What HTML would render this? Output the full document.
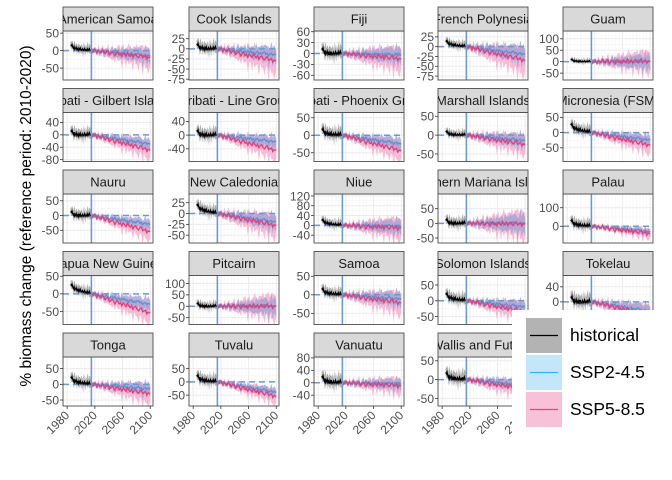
<!DOCTYPE html>
<html><head><meta charset="utf-8">
<style>
html,body{margin:0;padding:0;background:#fff;}
svg{display:block;font-family:"Liberation Sans",sans-serif;}
</style></head>
<body>
<svg id="chart" width="672" height="480" viewBox="0 0 672 480"></svg>
<script>
// ---- data ----
const regions = ["American Samoa","Cook Islands","Fiji","French Polynesia","Guam",
 "Kiribati - Gilbert Islands","Kiribati - Line Group","Kiribati - Phoenix Group","Marshall Islands","Micronesia (FSM)",
 "Nauru","New Caledonia","Niue","Northern Mariana Islands","Palau",
 "Papua New Guinea","Pitcairn","Samoa","Solomon Islands","Tokelau",
 "Tonga","Tuvalu","Vanuatu","Wallis and Futuna"];
const yMin = [-84,-77,-73,-85,-80, -86,-77,-75,-70,-95, -93,-68,-72,-67,-90, -87,-80,-80,-75,-60, -69,-91,-75,-70];
const yMax = [56,44,62,40,134, 72,66,65,60,66, 73,45,128,100,174, 52,135,52,80,70, 87,94,83,60];
const yTicks = [[50,0,-50],[25,0,-25,-50,-75],[60,30,0,-30,-60],[25,0,-25,-50,-75],[100,50,0,-50],
 [40,0,-40,-80],[40,0,-40],[50,0,-50],[50,0,-50],[50,0,-50],
 [50,0,-50],[25,0,-25,-50],[120,80,40,0,-40],[50,0,-50],[100,0],
 [50,0,-50],[100,50,0,-50],[50,0,-50],[50,0,-50],[40,0,-40],
 [50,0,-50],[50,0,-50],[80,40,0,-40],[50,0,-50]];
const ssp2End = [-15,-15,-5,-20,0, -30,-20,-25,-15,-25, -30,-20,-5,0,-30, -30,0,-12,-20,-25, -15,-40,-5,-15];
const ssp5End = [-20,-30,-15,-35,2, -50,-45,-45,-25,-42, -55,-28,-12,-3,-40, -55,0,-22,-35,-35, -30,-55,-10,-25];
const ssp5Spread = [35,35,40,40,60, 30,30,30,30,30, 30,30,55,60,30, 30,70,35,35,30, 35,30,30,25];
const histSpread = [18,20,25,15,15, 25,25,25,15,25, 25,18,25,25,40, 20,25,20,25,25, 25,30,30,25];
const histStart = [10,5,5,10,5, 5,5,10,5,20, 5,15,15,5,20, 20,5,10,15,5, 15,15,10,10];
const xTicks = [1980,2020,2060,2100];
const histYears = [1985,1986,1987,1988,1989,1990,1991,1992,1993,1994,1995,1996,1997,1998,1999,2000,2001,2002,2003,2004,2005,2006,2007,2008,2009,2010,2011,2012,2013,2014,2015];
const histWiggle = [0.8,0.5,1.0,0.2,-0.3,0.4,-0.6,-0.2,0.3,-0.5,-0.1,-0.7,0.1,-0.4,0.2,-0.6,-0.3,0.1,-0.5,-0.2,0.3,-0.4,0.0,-0.2,0.4,-0.3,0.2,0.6,-0.1,0.1,0.0];
const histNoise = [0.5,0.9,0.4,1.2,0.6,0.8,1.5,0.5,0.7,1.0,0.4,1.3,0.6,0.9,0.5,0.8,1.1,0.6,0.4,1.4,0.7,0.5,1.0,0.6,0.9,1.6,0.5,0.8,1.2,0.6,0.5];
const projYears = [2015,2017,2019,2021,2023,2025,2027,2029,2031,2033,2035,2037,2039,2041,2043,2045,2047,2049,2051,2053,2055,2057,2059,2061,2063,2065,2067,2069,2071,2073,2075,2077,2079,2081,2083,2085,2087,2089,2091,2093,2095,2097,2100];
const projWiggle2 = [0,0.3,-0.2,0.4,-0.1,0.2,-0.4,0.1,0.3,-0.3,0.0,0.4,-0.2,-0.5,0.1,0.3,-0.1,0.5,-0.3,0.0,0.2,-0.4,0.3,-0.1,0.4,-0.2,0.1,-0.5,0.2,0.4,-0.3,0.1,-0.2,0.3,0.5,-0.1,0.2,-0.4,0.1,0.3,-0.2,0.2,0.0];
const projWiggle5 = [0,-0.3,0.4,0.1,-0.4,0.3,0.0,-0.2,0.5,0.1,-0.3,0.2,0.4,-0.4,-0.1,0.3,0.0,-0.5,0.2,0.4,-0.2,0.1,-0.4,0.3,0.0,-0.3,0.5,0.1,-0.2,0.3,-0.4,0.2,0.4,-0.1,-0.3,0.2,0.5,-0.2,0.0,0.3,-0.4,0.1,0.0];
const ribbonNoise = [0.6,1.3,0.7,1.0,0.5,1.5,0.8,0.6,1.2,0.7,1.0,0.5,1.4,0.8,0.6,1.1,0.7,1.3,0.6,0.9,1.5,0.7,0.8,1.2,0.6,1.0,0.7,1.4,0.8,0.6,1.1,0.9,0.7,1.3,0.6,1.0,0.8,1.2,0.7,0.9,1.1,0.8,0.7];

// ---- layout ----
const NS="http://www.w3.org/2000/svg";
const svg=document.getElementById('chart');
const colX=[63,189,314,438,563], PW=90, STRIP=24, PH=49;
const rowTop=[7,88.5,170,251.5,333];
const X0=1974, X1=2104;
function mk(tag,attrs,parent){const e=document.createElementNS(NS,tag);for(const k in attrs)e.setAttribute(k,attrs[k]);(parent||svg).appendChild(e);return e;}
const defs=mk('defs',{});

regions.forEach((name,i)=>{
  const c=i%5, r=Math.floor(i/5);
  const left=colX[c], st=rowTop[r], top=st+STRIP, bot=top+PH, right=left+PW;
  const xs=y=>left+(y-X0)/(X1-X0)*PW;
  const ys=v=>bot-(v-yMin[i])/(yMax[i]-yMin[i])*PH;
  const g=mk('g',{});
  
  
  const cp=mk('clipPath',{id:'cp'+i},defs); mk('rect',{x:left,y:top,width:PW,height:PH},cp);
  const cs=mk('clipPath',{id:'cs'+i},defs); mk('rect',{x:left,y:st,width:PW,height:STRIP},cs);
  mk('rect',{x:left,y:top,width:PW,height:PH,fill:'#fff'},g);
  const grid=mk('g',{'clip-path':`url(#cp${i})`},g);
  [2000,2040,2080].forEach(y=>mk('line',{x1:xs(y),x2:xs(y),y1:top,y2:bot,stroke:'#f3f3f3','stroke-width':0.6},grid));
  for(let y=1975;y<=2100;y+=5)mk('line',{x1:xs(y),x2:xs(y),y1:top,y2:bot,stroke:'#f6f6f6','stroke-width':0.5},grid);
  const tk=yTicks[i];
  for(let k=0;k<tk.length-1;k++){const m=(tk[k]+tk[k+1])/2;mk('line',{x1:left,x2:right,y1:ys(m),y2:ys(m),stroke:'#f3f3f3','stroke-width':0.6},grid);}
  xTicks.forEach(y=>mk('line',{x1:xs(y),x2:xs(y),y1:top,y2:bot,stroke:'#ebebeb','stroke-width':1},grid));
  tk.forEach(v=>mk('line',{x1:left,x2:right,y1:ys(v),y2:ys(v),stroke:'#ebebeb','stroke-width':1},grid));
  // historical
  const hm=histYears.map((y,k)=>histStart[i]*(1-k/30)+histWiggle[k]*histSpread[i]*0.45);
  let up=histYears.map((y,k)=>xs(y)+','+ys(hm[k]+histSpread[i]*histNoise[k]*0.9));
  let lo=histYears.map((y,k)=>xs(y)+','+ys(hm[k]-histSpread[i]*histNoise[(k+7)%31]*0.7)).reverse();
  const hr=mk('polygon',{points:up.concat(lo).join(' '),fill:'#a6a6a6','fill-opacity':0.9},grid);
  
  
  // projections
  const n=projYears.length;
  const rng=(yMax[i]-yMin[i])/140;
  const frac=k=>(projYears[k]-2015)/85;
  const m5=projYears.map((y,k)=>ssp5End[i]*frac(k)+projWiggle5[k]*14*rng);
  const m2=projYears.map((y,k)=>ssp2End[i]*frac(k)+projWiggle2[k]*10*rng);
  const w=k=>8+ssp5Spread[i]*frac(k);
  const p5u=projYears.map((y,k)=>xs(y)+','+ys(m5[k]+w(k)*ribbonNoise[k]*0.8));
  const p5l=projYears.map((y,k)=>xs(y)+','+ys(m5[k]-w(k)*ribbonNoise[n-1-k]*0.9)).reverse();
  const p2u=projYears.map((y,k)=>xs(y)+','+ys(m2[k]+w(k)*0.55*ribbonNoise[(k+5)%n]));
  const p2l=projYears.map((y,k)=>xs(y)+','+ys(m2[k]-w(k)*0.6*ribbonNoise[(k+11)%n])).reverse();
  const r5=mk('polygon',{points:p5u.concat(p5l).join(' '),fill:'#f7b3cf','fill-opacity':0.9},grid);
  
  
  const r2=mk('polygon',{points:p2u.concat(p2l).join(' '),fill:'#b9e3f7','fill-opacity':0.7},grid);
  
  
  mk('polygon',{points:p2u.concat(p2l).join(' '),fill:'#9a6fb8','fill-opacity':0.45},grid);
  mk('line',{x1:left,x2:right,y1:ys(0),y2:ys(0),stroke:'#6a9bd0','stroke-width':1.5,'stroke-dasharray':'6,4'},grid);
  const l2=mk('polyline',{points:projYears.map((y,k)=>xs(y)+','+ys(m2[k])).join(' '),fill:'none',stroke:'#5f8fd0','stroke-width':1.3},grid);
  
  
  const l5=mk('polyline',{points:projYears.map((y,k)=>xs(y)+','+ys(m5[k])).join(' '),fill:'none',stroke:'#e0407c','stroke-width':1.3},grid);
  
  
  const hl=mk('polyline',{points:histYears.map((y,k)=>xs(y)+','+ys(hm[k])).join(' '),fill:'none',stroke:'#000','stroke-width':1.2},grid);
  
  
  mk('line',{x1:xs(2015),x2:xs(2015),y1:top,y2:bot,stroke:'#6a9bd0','stroke-width':1.6},grid);
  mk('rect',{x:left,y:top,width:PW,height:PH,fill:'none',stroke:'#4d4d4d','stroke-width':0.9},g);
  mk('rect',{x:left,y:st,width:PW,height:STRIP,fill:'#d9d9d9',stroke:'#4d4d4d','stroke-width':0.9},g);
  const t=mk('text',{x:left+PW/2,y:st+16.5,'text-anchor':'middle','font-size':13,fill:'#1a1a1a','clip-path':`url(#cs${i})`},g);
  t.textContent=name;
  
  
  tk.forEach(v=>{const yy=ys(v);if(yy<top-1||yy>bot+1)return;
    mk('line',{x1:left-3,x2:left,y1:yy,y2:yy,stroke:'#333','stroke-width':0.8},g);
    const tt=mk('text',{x:left-4,y:yy+4.3,'text-anchor':'end','font-size':12,fill:'#4d4d4d'},g);tt.textContent=v;
    
    });
  if(r===4||i===19){
    xTicks.forEach(y=>{const xx=xs(y);
      mk('line',{x1:xx,x2:xx,y1:bot,y2:bot+3,stroke:'#333','stroke-width':0.8},g);
      const tt=mk('text',{x:xx+3,y:bot+10,'text-anchor':'end','font-size':12,fill:'#4d4d4d',transform:`rotate(-45 ${xx+3} ${bot+10})`},g);tt.textContent=y;
      
      });
  }
});

const yt=mk('text',{x:31,y:216,'text-anchor':'middle','font-size':15.5,fill:'#000',transform:'rotate(-90 31 216)'});
yt.textContent='% biomass change (reference period: 2010-2020)';



const lg=mk('g',{});


mk('rect',{x:512,y:310,width:142,height:122,fill:'#fff'},lg);
const legLabels=['historical','SSP2-4.5','SSP5-8.5'];
const legFill=['#b3b3b3','#c3e7f8','#f8c1d8'];
const legLine=['#000','#29b6f6','#f0407a'];
legLabels.forEach((lab,k)=>{
  const y0=318+k*37;
  const e=mk('g',{},lg);
  
  
  mk('rect',{x:526,y:y0,width:36,height:35,fill:legFill[k]},e);
  mk('line',{x1:530,x2:558,y1:y0+17.5,y2:y0+17.5,stroke:legLine[k],'stroke-width':1.3},e);
  const t=mk('text',{x:570,y:y0+23,'font-size':17.5,fill:'#000'},e);t.textContent=lab;
});
</script>
</body></html>
